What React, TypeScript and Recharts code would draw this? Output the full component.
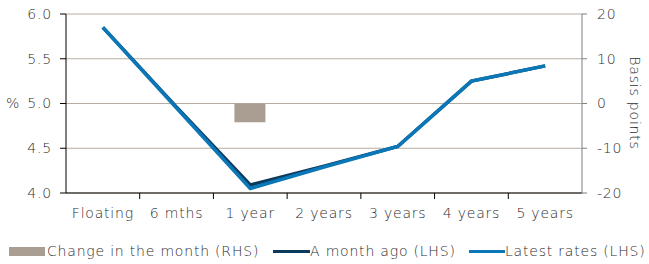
import React from 'react';
import { ComposedChart, Bar, Line, XAxis, YAxis, CartesianGrid, Legend, Label } from 'recharts';

const categories = ['Floating', '6 mths', '1 year', '2 years', '3 years', '4 years', '5 years'];
const monthAgo = [5.85, 4.96, 4.09, 4.30, 4.52, 5.25, 5.42];
const latest = [5.85, 4.95, 4.05, 4.29, 4.52, 5.25, 5.42];
const change = [0, 0, -4.2, 0, 0, 0, 0];
const leftTicks = [4.0, 4.5, 5.0, 5.5, 6.0];
const rightTicks = [-20, -10, 0, 10, 20];

const data = categories.map((c, i) => ({ cat: c, monthAgo: monthAgo[i], latest: latest[i], change: change[i] }));

const FONT = '"DejaVu Sans", sans-serif';
const WEIGHT = 300;
const TEXT = '#2e2e2e';
const C_BAR = '#aa9e92';
const C_DARK = '#0c3a5c';
const C_LIGHT = '#0a78b8';
const GRID = '#b9ad9f';

const PLOT_LEFT = 66;
const PLOT_RIGHT = 582;
const BAND = (PLOT_RIGHT - PLOT_LEFT) / categories.length;

const XTick = (props: any) => {
  const { x, y, payload, index } = props;
  return (
    <g>
      {index < categories.length - 1 && (
        <line x1={x + BAND / 2} x2={x + BAND / 2} y1={y} y2={y + 6} stroke="#000" strokeWidth={1} />
      )}
      <text x={x} y={y + 25} textAnchor="middle" fill={TEXT} fontSize={14} fontFamily={FONT} fontWeight={WEIGHT} letterSpacing={0.8}>
        {payload.value}
      </text>
    </g>
  );
};

const LegendContent = () => {
  const txt: React.CSSProperties = { position: 'absolute', top: 0, fontSize: 14, fontFamily: FONT, fontWeight: WEIGHT, color: TEXT, letterSpacing: 0.8, lineHeight: '18px', whiteSpace: 'nowrap' };
  return (
    <div style={{ position: 'relative', width: 649, height: 18 }}>
      <div style={{ position: 'absolute', left: 9, top: 5, width: 36, height: 9, background: C_BAR }} />
      <span style={{ ...txt, left: 47 }}>Change in the month (RHS)</span>
      <div style={{ position: 'absolute', left: 273, top: 8, width: 37, height: 3, background: C_DARK }} />
      <span style={{ ...txt, left: 310 }}>A month ago (LHS)</span>
      <div style={{ position: 'absolute', left: 469, top: 8, width: 36, height: 3, background: C_LIGHT }} />
      <span style={{ ...txt, left: 505 }}>Latest rates (LHS)</span>
    </div>
  );
};

export default function App() {
  return (
    <div style={{ position: 'absolute', left: 0, top: 0, width: 649, height: 264, background: '#fff' }}>
      <ComposedChart width={649} height={264} data={data} margin={{ top: 14, right: 0, left: 0, bottom: 23 }}>
        <CartesianGrid yAxisId="left" horizontal vertical={false} stroke={GRID} strokeWidth={1} />
        <XAxis
          dataKey="cat"
          height={30}
          tickSize={0}
          tickMargin={0}
          tickLine={false}
          axisLine={{ stroke: '#000', strokeWidth: 1 }}
          tick={<XTick />}
          interval={0}
        />
        <YAxis
          yAxisId="left"
          width={66}
          domain={[4, 6]}
          ticks={leftTicks}
          tickFormatter={(v: number) => v.toFixed(1)}
          axisLine={{ stroke: '#000', strokeWidth: 1 }}
          tickLine={{ stroke: '#000' }}
          tickSize={6}
          tickMargin={8}
          tick={{ fill: TEXT, fontSize: 14, fontFamily: FONT, fontWeight: WEIGHT, letterSpacing: 0.8 }}
          label={<Label value="%" position="insideLeft" offset={6} fill={TEXT} fontSize={14} fontFamily={FONT} fontWeight={WEIGHT} />}
        />
        <YAxis
          yAxisId="right"
          orientation="right"
          width={67}
          domain={[-20, 20]}
          ticks={rightTicks}
          axisLine={{ stroke: '#7f7f7f', strokeWidth: 1 }}
          tickLine={{ stroke: '#7f7f7f' }}
          tickSize={5}
          tickMargin={10}
          tick={{ fill: TEXT, fontSize: 14, fontFamily: FONT, fontWeight: WEIGHT, letterSpacing: 0.8, textAnchor: 'start' }}
          label={
            <Label
              content={() => (
                <text x={635} y={103} transform="rotate(90 635 103)" textAnchor="middle" dominantBaseline="central" fill={TEXT} fontSize={14} fontFamily={FONT} fontWeight={WEIGHT} letterSpacing={0.8}>
                  Basis points
                </text>
              )}
            />
          }
        />
        <Bar yAxisId="right" dataKey="change" fill={C_BAR} barSize={31} isAnimationActive={false} />
        <Line yAxisId="left" type="linear" dataKey="monthAgo" stroke={C_DARK} strokeWidth={3.5} dot={false} isAnimationActive={false} />
        <Line yAxisId="left" type="linear" dataKey="latest" stroke={C_LIGHT} strokeWidth={3.5} dot={false} isAnimationActive={false} />
        <Legend verticalAlign="bottom" content={<LegendContent />} wrapperStyle={{ left: 0, bottom: 'auto', top: 242, width: 649, height: 18 }} />
      </ComposedChart>
    </div>
  );
}
